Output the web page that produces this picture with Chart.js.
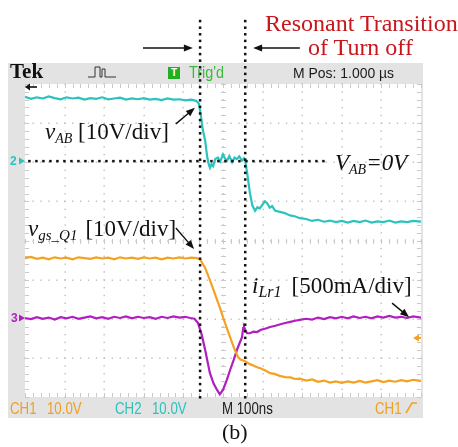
<!DOCTYPE html>
<html><head><meta charset="utf-8">
<script src="https://cdn.jsdelivr.net/npm/chart.js@4"></script>
<style>
body{margin:0;background:#fff;}
#wrap{position:relative;width:458px;height:447px;overflow:hidden;}
canvas{position:absolute;left:0;top:0;}
.t{position:absolute;white-space:nowrap;line-height:1;}
.serif{font-family:"Liberation Serif","DejaVu Serif",serif;}
.ann{font-size:23px;color:#111;}
.ann sub{font-size:14px;line-height:1;vertical-align:-4px;font-style:italic;}
.sc{font-family:"Liberation Sans",Arial,sans-serif;transform-origin:0 0;}
.bar{font-size:17px;transform:scaleX(0.78);}
.topb{font-size:15px;transform:scaleX(0.93);}
.num{font-size:12px;font-weight:bold;font-family:"Liberation Sans",Arial,sans-serif;}
</style></head>
<body><div id="wrap"><canvas id="c" width="458" height="447"></canvas>
<div class="t serif" style="left:265px;top:11px;font-size:24px;color:#c8161d">Resonant Transition</div>
<div class="t serif" style="left:308px;top:35px;font-size:24px;color:#c8161d">of Turn off</div>
<div class="t serif" style="left:10px;top:61px;font-size:21px;font-weight:bold;color:#111">Tek</div>
<div class="t" style="left:168px;top:67px;width:12px;height:12px;background:#22b022;color:#fff;font:bold 10px 'Liberation Sans',Arial,sans-serif;text-align:center;line-height:12px">T</div>
<div class="t sc" style="left:189px;top:65px;color:#3cba3c;font-size:16px;transform:scaleX(0.9)">Trig'd</div>
<div class="t sc topb" style="left:293px;top:65px;color:#1a1a1a">M Pos: 1.000 µs</div>
<div class="t sc bar" style="left:10px;top:400px;color:#f0a020">CH1</div>
<div class="t sc bar" style="left:47px;top:400px;color:#f0a020">10.0V</div>
<div class="t sc bar" style="left:115px;top:400px;color:#2cc3bd">CH2</div>
<div class="t sc bar" style="left:152px;top:400px;color:#2cc3bd">10.0V</div>
<div class="t sc bar" style="left:222px;top:400px;color:#1a1a1a">M 100ns</div>
<div class="t sc bar" style="left:375px;top:400px;color:#f0a020">CH1</div>
<div class="t num" style="left:10px;top:155px;color:#2cc3bd">2</div>
<div class="t num" style="left:11px;top:312px;color:#b01fbf">3</div>
<div class="t serif ann" style="left:45px;top:120px"><i>v</i><sub>AB</sub> [10V/div]</div>
<div class="t serif ann" style="left:335px;top:151px"><i>V</i><sub>AB</sub><i>=0V</i></div>
<div class="t serif ann" style="left:28px;top:217px"><i>v</i><sub style="font-size:15px">gs_Q1</sub><span style="margin-left:8px">[10V/div]</span></div>
<div class="t serif ann" style="left:252px;top:274px"><i>i</i><sub style="font-size:16px">Lr1</sub><span style="margin-left:10px">[500mA/div]</span></div>
<div class="t serif" style="left:222px;top:421px;font-size:22px;color:#111">(b)</div>
</div>
<script>
// time axis in ns (100 ns/div, 10 div), vertical values in divisions (8 div)
const vabTime = [0,15,30,45,60,75,90,105,120,135,150,165,180,195,210,225,240,255,270,285,300,315,330,345,360,375,390,405,420,432,439,444,449,455,460,464,467,471,475,480,487,493,500,505,510,516,523,529,535,541,548,553,556,561,568,574,581,587,593,600,606,611,618,624,632,644,656,669,681,694,710,725,740,755,770,785,800,815,830,845,860,875,890,905,920,935,950,965,980,1000];
const vabDiv = [3.67,3.62,3.66,3.63,3.68,3.64,3.61,3.66,3.63,3.65,3.60,3.64,3.62,3.66,3.61,3.63,3.65,3.60,3.63,3.61,3.64,3.60,3.62,3.59,3.63,3.60,3.61,3.58,3.60,3.57,3.50,3.21,2.83,2.55,2.14,1.95,1.86,1.95,1.90,2.08,2.12,2.02,2.20,2.10,2.04,2.16,2.00,2.12,2.08,2.15,2.04,2.10,2.04,1.73,1.21,0.90,0.76,0.85,0.82,0.92,1.00,0.96,0.84,0.88,0.76,0.73,0.70,0.64,0.62,0.57,0.55,0.50,0.53,0.48,0.51,0.47,0.50,0.46,0.50,0.47,0.51,0.46,0.49,0.47,0.51,0.46,0.49,0.47,0.50,0.48];

const vgsTime = [0,15,30,45,60,75,90,105,120,135,150,165,180,195,210,225,240,255,270,285,300,315,330,345,360,375,390,405,420,434,442,455,467,476,485,493,500,509,518,524,530,538,544,550,558,568,578,586,596,608,619,630,643,657,670,682,694,710,725,740,755,770,785,800,815,830,845,860,875,890,905,920,935,950,965,980,1000];
const vgsDiv = [-0.45,-0.42,-0.47,-0.44,-0.48,-0.43,-0.46,-0.44,-0.48,-0.43,-0.45,-0.47,-0.43,-0.46,-0.44,-0.48,-0.43,-0.46,-0.44,-0.47,-0.43,-0.46,-0.44,-0.48,-0.44,-0.46,-0.43,-0.46,-0.44,-0.45,-0.48,-0.70,-1.01,-1.26,-1.52,-1.74,-1.96,-2.22,-2.47,-2.64,-2.80,-2.98,-3.04,-3.06,-3.10,-3.16,-3.20,-3.24,-3.27,-3.33,-3.39,-3.41,-3.46,-3.49,-3.50,-3.54,-3.53,-3.58,-3.55,-3.61,-3.58,-3.63,-3.60,-3.64,-3.60,-3.63,-3.59,-3.63,-3.60,-3.57,-3.62,-3.58,-3.61,-3.57,-3.60,-3.56,-3.59];

const iLrTime = [0,15,30,45,60,75,90,105,120,135,150,165,180,195,210,225,240,255,270,285,300,315,330,345,360,375,390,405,417,428,437,446,455,461,467,476,485,492,500,509,518,527,535,542,548,551,553,557,561,568,577,586,596,608,619,632,645,657,670,682,694,710,725,740,755,770,785,800,815,830,845,860,875,890,905,920,935,950,965,980,1000];
const iLrDiv = [-1.98,-2.01,-1.96,-2.00,-1.97,-2.02,-1.96,-1.99,-1.95,-2.00,-1.97,-1.94,-1.99,-1.96,-2.00,-1.95,-1.98,-1.94,-1.99,-1.95,-1.98,-1.96,-2.00,-1.95,-1.98,-1.94,-1.97,-1.95,-1.98,-2.00,-2.11,-2.40,-2.80,-3.10,-3.39,-3.65,-3.82,-3.93,-3.82,-3.58,-3.31,-3.05,-2.80,-2.62,-2.47,-2.24,-2.21,-2.30,-2.37,-2.37,-2.33,-2.34,-2.28,-2.25,-2.21,-2.18,-2.14,-2.11,-2.08,-2.05,-2.03,-2.00,-2.02,-1.97,-2.01,-1.96,-1.99,-1.95,-1.99,-1.94,-1.98,-1.95,-1.99,-1.94,-1.97,-1.93,-1.97,-1.95,-1.98,-1.94,-1.97];

const transitionMarks = [442, 556];   // ns, dotted markers
const ch2Ground = 2.03, ch3Ground = -1.98, ch1Ground = -2.49; // div

const COL = {cyan:'#2cc3bd', orange:'#f4a21f', purple:'#b01fbf'};
const pts = (t, v) => t.map((x, i) => ({x, y: v[i]}));

const scopePlugin = {
  id: 'scope',
  beforeDraw(chart) {
    const {ctx, chartArea: a} = chart;
    const xs = chart.scales.x, ys = chart.scales.y;
    ctx.save();
    ctx.fillStyle = '#fff'; ctx.fillRect(0, 0, chart.width, chart.height);
    ctx.fillStyle = '#e3e3e3';
    ctx.fillRect(a.left - 17, a.top - 21, a.right - a.left + 19, a.bottom - a.top + 42);
    ctx.fillStyle = '#fff'; ctx.fillRect(a.left, a.top, a.right - a.left, a.bottom - a.top);
    // grid dots
    ctx.fillStyle = '#bdbdbd';
    for (let t = 100; t < 1000; t += 100) {
      const px = Math.round(xs.getPixelForValue(t));
      for (let k = 0; k <= 40; k++) { const py = ys.getPixelForValue(-4 + k * 0.2); ctx.fillRect(px - 0.5, py - 0.5, 1.4, 1.4); }
    }
    for (let v = -3; v <= 3; v += 1) {
      const py = Math.round(ys.getPixelForValue(v));
      for (let k = 0; k <= 50; k++) { const px = xs.getPixelForValue(k * 20); ctx.fillRect(px - 0.5, py - 0.5, 1.4, 1.4); }
    }
    const cx = Math.round(xs.getPixelForValue(500)), cy = Math.round(ys.getPixelForValue(0));
    ctx.fillStyle = '#c9c9c9';
    for (let k = 0; k <= 40; k++) {
      const py = Math.round(ys.getPixelForValue(-4 + k * 0.2));
      ctx.fillRect(cx - 2, py, 5, 1);
      ctx.fillRect(a.left, py, 4, 1); ctx.fillRect(a.right - 4, py, 4, 1);
    }
    for (let k = 0; k <= 50; k++) {
      const px = Math.round(xs.getPixelForValue(k * 20));
      ctx.fillRect(px, cy - 2, 1, 5);
      ctx.fillRect(px, a.top, 1, 4); ctx.fillRect(px, a.bottom - 4, 1, 4);
    }
    // pulse icon in top bar
    ctx.strokeStyle = '#333'; ctx.lineWidth = 1;
    const bx = a.left + 63, by = a.top - 7;
    ctx.beginPath();
    ctx.moveTo(bx, by); ctx.lineTo(bx + 7, by); ctx.lineTo(bx + 7, by - 10); ctx.lineTo(bx + 12, by - 10);
    ctx.lineTo(bx + 12, by); ctx.lineTo(bx + 14, by); ctx.lineTo(bx + 14, by - 8); ctx.lineTo(bx + 17, by - 8);
    ctx.lineTo(bx + 17, by); ctx.lineTo(bx + 28, by);
    ctx.stroke();
    ctx.restore();
  },
  afterDatasetsDraw(chart) {
    const {ctx, chartArea: a} = chart;
    const xs = chart.scales.x, ys = chart.scales.y;
    ctx.save();
    // dotted markers
    ctx.fillStyle = '#111';
    const topY = ys.getPixelForValue(5.64);
    transitionMarks.forEach(t => {
      const px = xs.getPixelForValue(t);
      for (let y = topY; y < a.bottom + 2; y += 6.6) ctx.fillRect(px - 1.2, y, 2.5, 2.5);
    });
    const zy = ys.getPixelForValue(ch2Ground);
    for (let x = xs.getPixelForValue(8); x < xs.getPixelForValue(765); x += 7) ctx.fillRect(x, zy - 1.2, 2.5, 2.5);
    // arrows
    const arrow = (f, t2) => {
      const x1 = xs.getPixelForValue(f[0]), y1 = ys.getPixelForValue(f[1]);
      const x2 = xs.getPixelForValue(t2[0]), y2 = ys.getPixelForValue(t2[1]);
      const ang = Math.atan2(y2 - y1, x2 - x1), L = 9, W = 3.5;
      ctx.strokeStyle = '#111'; ctx.lineWidth = 1.4;
      ctx.beginPath(); ctx.moveTo(x1, y1); ctx.lineTo(x2 - L * 0.8 * Math.cos(ang), y2 - L * 0.8 * Math.sin(ang)); ctx.stroke();
      ctx.beginPath();
      ctx.moveTo(x2, y2);
      ctx.lineTo(x2 - L * Math.cos(ang) + W * Math.sin(ang), y2 - L * Math.sin(ang) - W * Math.cos(ang));
      ctx.lineTo(x2 - L * Math.cos(ang) - W * Math.sin(ang), y2 - L * Math.sin(ang) + W * Math.cos(ang));
      ctx.closePath(); ctx.fill();
    };
    arrow([298, 4.92], [424, 4.92]);
    arrow([694, 4.92], [576, 4.92]);
    arrow([381, 2.98], [429, 3.39]);
    arrow([381, 0.32], [427, -0.22]);
    arrow([927, -1.60], [970, -1.96]);
    // trigger position arrow (top-left)
    ctx.fillStyle = '#111';
    const ty = a.top + 3;
    ctx.fillRect(a.left + 3, ty - 0.8, 9, 1.6);
    ctx.beginPath(); ctx.moveTo(a.left, ty); ctx.lineTo(a.left + 5, ty - 3.5); ctx.lineTo(a.left + 5, ty + 3.5); ctx.closePath(); ctx.fill();
    // channel ground markers
    const tri = (x, y, dir, col) => {
      ctx.fillStyle = col; ctx.beginPath();
      ctx.moveTo(x, y); ctx.lineTo(x - 6 * dir, y - 3.5); ctx.lineTo(x - 6 * dir, y + 3.5); ctx.closePath(); ctx.fill();
    };
    tri(a.left, ys.getPixelForValue(ch2Ground), 1, COL.cyan);
    tri(a.left, ys.getPixelForValue(ch3Ground), 1, COL.purple);
    const oy = ys.getPixelForValue(ch1Ground);
    tri(a.right - 8, oy, -1, COL.orange);
    ctx.fillRect(a.right - 4, oy - 1, 4, 2);
    // trigger slope symbol
    ctx.strokeStyle = COL.orange; ctx.lineWidth = 1.6;
    ctx.beginPath(); ctx.moveTo(a.right - 15, a.bottom + 16); ctx.lineTo(a.right - 9, a.bottom + 6); ctx.lineTo(a.right - 4, a.bottom + 6); ctx.stroke();
    ctx.restore();
  }
};

new Chart(document.getElementById('c'), {
  type: 'line',
  data: {
    datasets: [
      {label: 'vAB', data: pts(vabTime, vabDiv), borderColor: COL.cyan, borderWidth: 2.2},
      {label: 'vgs_Q1', data: pts(vgsTime, vgsDiv), borderColor: COL.orange, borderWidth: 2.2},
      {label: 'iLr1', data: pts(iLrTime, iLrDiv), borderColor: COL.purple, borderWidth: 2.2}
    ]
  },
  options: {
    responsive: false, animation: false, devicePixelRatio: 1,
    layout: {padding: {left: 25, right: 37, top: 84, bottom: 50}},
    elements: {point: {radius: 0}, line: {tension: 0}},
    plugins: {legend: {display: false}, tooltip: {enabled: false}},
    scales: {
      x: {type: 'linear', min: 0, max: 1000, display: false},
      y: {type: 'linear', min: -4, max: 4, display: false}
    }
  },
  plugins: [scopePlugin]
});
</script>
</body></html>
